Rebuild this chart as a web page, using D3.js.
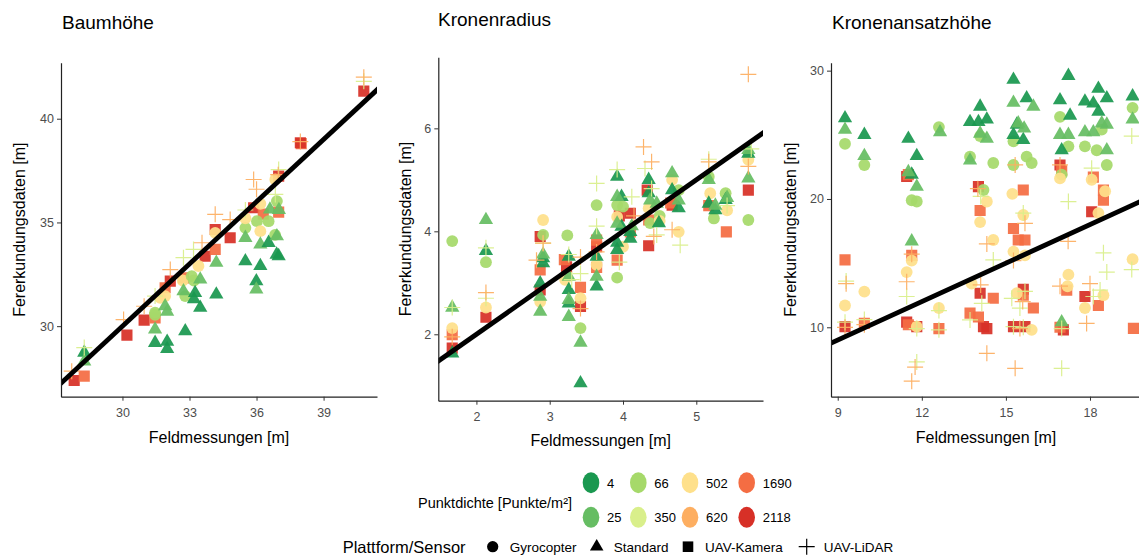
<!DOCTYPE html>
<html>
<head>
<meta charset="utf-8">
<script src="https://cdn.jsdelivr.net/npm/d3@7"></script>
<style>
  body { margin: 0; background: #fff; }
  text { font-family: "Liberation Sans", Arial, sans-serif; }
</style>
</head>
<body>
<svg id="chart" width="1139" height="559"></svg>
<script>
// categories
const dichteWerte = [4, 25, 66, 350, 502, 620, 1690, 2118];
const dichteFarben = ["#1a9850", "#66bd63", "#a6d96a", "#d9ef8b", "#fee08b", "#fdae61", "#f46d43", "#d73027"];
const plattformen = ["Gyrocopter", "Standard", "UAV-Kamera", "UAV-LiDAR"];
const panelTitel = ["Baumhöhe", "Kronenradius", "Kronenansatzhöhe"];

// axis domains + ticks per panel
const xDomains = [[27.25, 41.39], [1.48, 5.91], [8.76, 19.82]];
const yDomains = [[26.6, 42.7], [0.71, 7.38], [4.59, 30.62]];
const xTicks = [[30, 33, 36, 39], [2, 3, 4, 5], [9, 12, 15, 18]];
const yTicks = [[30, 35, 40], [2, 4, 6], [10, 20, 30]];

// [Feldmessung, Fernerkundung, Punktdichte]
const baumGyro = [[31.46,30.55,66],[31.69,31.37,502],[31.91,31.45,502],[32.81,31.45,66],[32.7,32.2,502],[33.1,32.41,66],
  [33.4,32.9,502],[33.2,32.2,66],[34.15,34.5,502],[35.5,34.74,66],[35.5,35.2,502],[36.02,35.06,66],[36.17,34.58,502],
  [36.17,35.9,502],[36.54,35.06,66],[36.83,34.4,66],[36.91,36.03,66],[36.84,37.07,502],[31.46,30.65,66]];
const baumStandard = [[28.29,28.73,4],[28.29,28.3,25],[31.46,29.84,25],[31.46,29.2,4],[32.0,29.25,4],[32.0,28.9,4],
  [31.91,30.96,25],[32.0,30.7,25],[32.81,29.76,4],[32.73,31.69,25],[33.2,31.3,4],[33.25,31.6,4],[33.48,30.89,4],
  [33.48,32.25,25],[34.2,33.06,25],[34.2,31.53,4],[35.5,33.13,4],[35.5,34.26,25],[35.99,32.17,4],[35.99,31.77,25],
  [36.17,32.9,4],[36.17,33.94,25],[36.54,34.02,4],[36.6,35.63,25],[36.99,33.38,4],[36.9,33.45,4],[37.0,35.6,25],[36.91,34.34,25]];
const baumKamera = [[27.84,27.38,2118],[28.29,27.59,1690],[30.2,29.57,2118],[30.97,30.29,2118],[31.46,30.4,1690],
  [31.91,31.85,1690],[32.14,32.17,2118],[32.73,32.33,1690],[33.7,33.37,2118],[34.15,33.7,1690],[34.15,34.66,2118],
  [34.82,34.26,2118],[35.87,35.71,2118],[36.3,35.4,1690],[36.99,35.5,1690],[36.99,37.23,2118],[38.0,38.8,1690],
  [37.96,38.84,2118],[40.8,41.33,2118]];
const baumLidar = [[27.73,27.83,620],[28.29,28.97,350],[30.05,30.32,620],[30.97,30.96,620],[31.46,31.45,350],
  [32.14,32.73,620],[32.73,33.3,350],[33.18,33.7,350],[33.56,34.02,620],[34.15,35.39,620],[34.82,35.14,620],
  [35.5,35.6,350],[35.87,37.07,620],[36.0,36.6,620],[36.84,36.35,350],[36.99,37.55,350],[36.97,37.3,620],
  [37.96,38.9,620],[40.8,41.8,350],[40.8,42.0,620]];

const radiusGyro = [[1.67,3.81,66],[2.13,3.40,66],[2.91,3.93,66],[3.24,3.92,66],[3.42,2.12,66],[3.64,4.51,66],
  [3.92,4.51,66],[3.92,3.1,66],[4.0,4.48,66],[4.37,4.16,66],[4.5,4.3,66],[4.76,4.8,66],[5.17,5.06,66],[5.24,4.25,66],
  [5.40,4.74,66],[5.71,4.22,66],[1.67,2.12,502],[2.13,2.52,502],[2.91,4.22,502],[2.87,2.63,502],[3.21,3.06,502],
  [3.42,2.70,502],[3.64,3.35,502],[3.92,4.28,502],[4.0,3.7,502],[4.35,4.45,502],[4.5,4.2,502],[4.67,5.0,502],
  [4.76,3.99,502],[5.19,4.74,502],[5.42,4.41,502],[5.71,5.39,502]];
const radiusStandard = [[1.67,1.63,4],[2.13,3.62,4],[2.87,2.99,4],[2.91,3.48,4],[2.91,3.38,4],[3.26,3.51,4],[3.26,2.86,4],
  [3.26,2.6,4],[3.42,1.05,4],[3.64,3.51,4],[3.64,2.93,4],[3.92,5.06,4],[3.92,3.64,4],[3.92,3.78,4],[3.98,4.67,4],
  [3.98,4.09,4],[4.1,3.86,4],[4.1,3.99,4],[4.35,5.0,4],[4.35,4.74,4],[4.49,4.16,4],[4.67,4.8,4],[4.76,4.45,4],
  [5.17,4.54,4],[5.26,4.41,4],[5.40,4.61,4],[5.71,5.51,4],[1.67,2.52,25],[2.13,4.22,25],[2.87,2.73,25],[2.87,2.44,25],
  [2.91,3.55,25],[3.26,2.67,25],[3.26,2.34,25],[3.26,3.12,25],[3.42,1.84,25],[3.64,3.93,25],[3.64,3.12,25],
  [3.92,4.67,25],[3.92,4.15,25],[4.12,4.1,25],[4.37,4.6,25],[4.46,4.54,25],[4.67,5.13,25],[4.76,4.6,25],[5.17,5.0,25],
  [5.26,4.5,25],[5.42,4.65,25],[5.71,5.58,25],[5.71,5.03,25]];
const radiusKamera = [[1.67,1.73,2118],[2.13,2.33,2118],[2.87,3.9,2118],[2.87,2.86,2118],[3.23,3.31,2118],[3.42,2.54,2118],
  [3.64,3.7,2118],[3.95,4.3,2118],[4.1,4.35,2118],[4.33,4.8,2118],[4.35,3.72,2118],[4.67,4.51,2118],[5.71,4.80,2118],
  [1.67,1.99,1690],[2.87,3.25,1690],[3.2,3.45,1690],[3.42,2.91,1690],[3.64,3.83,1690],[3.64,3.3,1690],[3.92,3.44,1690],
  [4.1,3.99,1690],[4.35,4.22,1690],[4.65,4.55,1690],[5.17,4.5,1690],[5.41,3.99,1690]];
const radiusLidar = [[1.67,2.52,350],[2.13,3.68,350],[2.13,2.7,350],[2.91,3.77,350],[3.26,3.55,350],[3.3,3.06,350],
  [3.42,3.18,350],[3.64,4.93,350],[3.64,4.1,350],[3.92,5.2,350],[3.95,3.4,350],[4.12,4.67,350],[4.30,5.22,350],
  [4.39,4.83,350],[4.46,3.93,350],[4.78,3.73,350],[5.17,5.4,350],[5.42,4.5,350],[5.75,5.6,350],[1.67,1.95,620],
  [2.13,2.81,620],[2.91,3.77,620],[2.82,3.44,620],[3.42,3.5,620],[3.42,2.5,620],[3.64,3.6,620],[4.15,4.3,620],
  [4.28,5.64,620],[4.39,5.35,620],[4.42,3.9,620],[4.67,4.03,620],[5.17,5.35,620],[5.71,7.05,620],[5.71,5.26,620]];

const ansatzGyro = [[9.26,24.3,66],[9.95,22.65,66],[11.64,19.9,66],[11.82,19.8,66],[12.61,25.6,66],[13.72,23.3,66],
  [14.08,24.9,66],[14.2,20.7,66],[14.55,22.8,66],[15.27,24.5,66],[15.27,22.65,66],[15.74,23.3,66],[15.92,22.8,66],
  [16.93,26.4,66],[16.99,21.9,66],[17.23,24.1,66],[17.82,24.1,66],[18.24,23.8,66],[18.42,25.4,66],[18.6,22.65,66],
  [19.52,27.1,66],[9.26,11.7,502],[9.95,12.78,502],[11.64,15.2,502],[11.46,14.3,502],[11.82,10.05,502],[12.61,11.5,502],
  [13.78,13.4,502],[14.32,19.8,502],[14.08,18.2,502],[14.55,16.8,502],[15.23,20.4,502],[15.62,18.75,502],
  [15.27,15.9,502],[15.68,15.6,502],[15.39,12.65,502],[15.92,9.8,502],[16.93,21.6,502],[17.23,14.1,502],
  [17.2,13.2,502],[17.82,11.5,502],[18.06,21.5,502],[18.3,18.9,502],[18.54,20.6,502],[18.48,12.5,502],[19.52,15.3,502]];
const ansatzStandard = [[9.26,26.3,4],[9.95,25.0,4],[11.52,24.7,4],[11.64,21.9,4],[11.82,23.35,4],[13.72,26.0,4],
  [14.08,27.2,4],[14.02,26.0,4],[14.32,26.2,4],[15.27,29.3,4],[15.39,25.8,4],[15.27,25.0,4],[15.62,24.6,4],
  [15.74,27.85,4],[16.93,27.7,4],[16.99,23.8,4],[17.23,29.6,4],[17.29,26.5,4],[17.82,27.6,4],[18.12,27.45,4],
  [18.3,26.8,4],[18.3,28.6,4],[18.6,27.85,4],[19.52,28.0,4],[9.26,25.4,25],[9.95,23.35,25],[11.52,22.1,25],
  [11.82,20.96,25],[11.64,16.7,25],[12.65,25.2,25],[13.72,23.0,25],[14.08,25.1,25],[14.32,24.7,25],[15.27,27.5,25],
  [15.44,25.9,25],[15.98,27.2,25],[15.65,25.5,25],[16.93,25.0,25],[16.99,10.4,25],[17.23,25.0,25],[17.82,25.2,25],
  [18.12,25.2,25],[18.42,25.9,25],[18.6,25.8,25],[18.6,23.8,25],[19.52,26.2,25]];
const ansatzKamera = [[9.26,10.05,2118],[11.46,21.75,2118],[11.46,10.4,2118],[11.82,10.05,2118],[14.02,20.96,2118],
  [14.08,12.65,2118],[14.32,9.9,2118],[14.2,10.05,2118],[15.62,12.96,2118],[15.27,10.05,2118],[15.68,10.05,2118],
  [16.93,22.65,2118],[17.05,9.8,2118],[17.82,12.4,2118],[18.06,19.0,2118],[9.26,15.25,1690],[9.95,10.3,1690],
  [11.52,21.9,1690],[11.64,15.6,1690],[11.52,10.2,1690],[12.61,9.9,1690],[13.72,11.1,1690],[14.08,19.1,1690],
  [14.02,10.8,1690],[14.55,12.26,1690],[15.62,20.7,1690],[15.27,17.7,1690],[15.44,16.8,1690],[15.68,16.8,1690],
  [15.62,12.5,1690],[15.98,11.5,1690],[16.99,22.2,1690],[17.17,12.9,1690],[16.93,10.0,1690],[18.12,21.7,1690],
  [18.3,11.7,1690],[18.48,19.9,1690],[18.48,20.7,1690],[19.55,9.92,1690]];
const ansatzLidar = [[9.26,10.4,350],[9.3,13.6,350],[9.95,10.6,350],[11.46,12.4,350],[11.82,7.3,350],[11.82,9.9,350],
  [12.61,11.3,350],[12.61,9.8,350],[13.72,10.57,350],[14.14,11.87,350],[14.1,20.2,350],[14.55,15.25,350],
  [15.21,12.26,350],[15.27,10.05,350],[15.5,11.5,350],[15.62,18.9,350],[15.68,12.8,350],[16.99,6.8,350],
  [16.99,9.9,350],[17.23,19.8,350],[18.12,12.4,350],[18.36,12.9,350],[18.48,15.8,350],[18.6,14.3,350],
  [18.06,22.4,350],[19.49,24.9,350],[19.49,14.5,350],[15.62,10.0,350],[9.3,13.4,620],[9.26,10.0,620],[9.95,10.2,620],
  [11.64,15.7,620],[11.46,13.55,620],[11.76,6.9,620],[11.64,5.8,620],[14.0,20.8,620],[14.32,16.5,620],[14.1,13.3,620],
  [14.32,7.97,620],[15.33,6.8,620],[15.33,22.65,620],[15.68,18.1,620],[15.27,15.2,620],[15.6,12.0,620],[16.93,13.2,620],
  [16.93,22.65,620],[17.22,16.7,620],[17.88,10.3,620],[18.0,13.4,620],[15.5,9.9,620]];

const panelDaten = [
  { Gyrocopter: baumGyro, Standard: baumStandard, "UAV-Kamera": baumKamera, "UAV-LiDAR": baumLidar },
  { Gyrocopter: radiusGyro, Standard: radiusStandard, "UAV-Kamera": radiusKamera, "UAV-LiDAR": radiusLidar },
  { Gyrocopter: ansatzGyro, Standard: ansatzStandard, "UAV-Kamera": ansatzKamera, "UAV-LiDAR": ansatzLidar }
];

// panel boxes in pixels
const boxes = [
  { left: 61, right: 377, top: 62.7, bottom: 396.7, titleX: 62, titleY: 29, yTitleX: 19, xTitleY: 443 },
  { left: 438.3, right: 763, top: 57.3, bottom: 400.7, titleX: 438, titleY: 26, yTitleX: 405, xTitleY: 446 },
  { left: 831, right: 1141, top: 62.7, bottom: 396.7, titleX: 832, titleY: 29, yTitleX: 790, xTitleY: 443 }
];

const svg = d3.select("#chart");
const farbe = d3.scaleOrdinal().domain(dichteWerte).range(dichteFarben);

// symbol per platform
const plusPfad = "M-8,0H8M0,-8V8";
function symbolPfad(p, s) {
  s = s || 1;
  if (p === "Gyrocopter") return d3.symbol(d3.symbolCircle, 110 * s * s)();
  if (p === "Standard") return d3.symbol(d3.symbolTriangle, 88 * s * s)();
  if (p === "UAV-Kamera") return d3.symbol(d3.symbolSquare, 124 * s * s)();
  return plusPfad;
}
const zeichenReihenfolge = ["UAV-Kamera", "Gyrocopter", "Standard", "UAV-LiDAR"];

boxes.forEach((b, i) => {
  const x = d3.scaleLinear().domain(xDomains[i]).range([b.left, b.right]);
  const y = d3.scaleLinear().domain(yDomains[i]).range([b.bottom, b.top]);
  const g = svg.append("g");

  g.append("clipPath").attr("id", "clip" + i)
    .append("rect").attr("x", b.left).attr("y", b.top)
    .attr("width", b.right - b.left).attr("height", b.bottom - b.top);

  const punkte = g.append("g").attr("clip-path", `url(#clip${i})`);
  zeichenReihenfolge.forEach(p => {
    const lidar = p === "UAV-LiDAR";
    punkte.selectAll(null)
      .data(panelDaten[i][p])
      .enter().append("path")
      .attr("d", symbolPfad(p))
      .attr("transform", d => `translate(${x(d[0])},${y(d[1])})`)
      .attr("fill", d => lidar ? "none" : farbe(d[2]))
      .attr("stroke", d => lidar ? farbe(d[2]) : "none")
      .attr("stroke-width", 1.2)
      .attr("opacity", 0.93);
  });

  // 1:1 line
  const lo = Math.min(xDomains[i][0], yDomains[i][0]);
  const hi = Math.max(xDomains[i][1], yDomains[i][1]);
  punkte.append("line")
    .attr("x1", x(lo)).attr("y1", y(lo))
    .attr("x2", x(hi)).attr("y2", y(hi))
    .attr("stroke", "#000").attr("stroke-width", 4.8);

  const fmt = d3.format("~g");
  const xAxis = g.append("g").attr("transform", `translate(0,${b.bottom})`)
    .call(d3.axisBottom(x).tickValues(xTicks[i]).tickFormat(fmt).tickSize(4).tickSizeOuter(0));
  const yAxis = g.append("g").attr("transform", `translate(${b.left},0)`)
    .call(d3.axisLeft(y).tickValues(yTicks[i]).tickFormat(fmt).tickSize(4).tickSizeOuter(0));
  [xAxis, yAxis].forEach(a => {
    a.select(".domain").attr("stroke", "#222").attr("stroke-width", 1.2);
    a.selectAll(".tick line").attr("stroke", "#333");
    a.selectAll(".tick text").attr("fill", "#4d4d4d").style("font-size", "12.5px")
      .style("font-family", "Liberation Sans, Arial, sans-serif");
  });
  xAxis.selectAll(".tick text").attr("dy", "1.05em");

  g.append("text").attr("x", b.titleX).attr("y", b.titleY)
    .style("font-size", "19px").attr("fill", "#000").text(panelTitel[i]);
  g.append("text")
    .attr("x", (b.left + b.right) / 2).attr("y", b.xTitleY)
    .attr("text-anchor", "middle").style("font-size", "16px").text("Feldmessungen [m]");
  g.append("text")
    .attr("transform", `translate(${b.yTitleX + 6},${(b.top + b.bottom) / 2}) rotate(-90)`)
    .attr("text-anchor", "middle").style("font-size", "16px").text("Fererkundungsdaten [m]");
});

// legend: Punktdichte
const leg = svg.append("g");
const spaltenX = [591, 638.3, 690, 746.7];
const zeilenY = [482.7, 517.3];
leg.append("text").attr("x", 572).attr("y", 508).attr("text-anchor", "end")
  .style("font-size", "14.5px").text("Punktdichte [Punkte/m²]");
dichteWerte.forEach((d, i) => {
  const cx = spaltenX[Math.floor(i / 2)], cy = zeilenY[i % 2];
  leg.append("ellipse").attr("cx", cx).attr("cy", cy).attr("rx", 8.3).attr("ry", 10.5).attr("fill", farbe(d));
  leg.append("text").attr("x", cx + 16).attr("y", cy + 5).style("font-size", "13px").text(d);
});

// legend: Plattform/Sensor
const symX = [492.7, 596.7, 688, 806.7];
const symY = 546.7;
leg.append("text").attr("x", 342.7).attr("y", symY + 6).style("font-size", "16.5px").text("Plattform/Sensor");
plattformen.forEach((p, i) => {
  const lidar = p === "UAV-LiDAR";
  leg.append("path").attr("d", symbolPfad(p, 0.95))
    .attr("transform", `translate(${symX[i]},${symY})`)
    .attr("fill", lidar ? "none" : "#000").attr("stroke", lidar ? "#000" : "none").attr("stroke-width", 1.2);
  leg.append("text").attr("x", symX[i] + 17).attr("y", symY + 5).style("font-size", "13.5px").text(p);
});
</script>
</body>
</html>
